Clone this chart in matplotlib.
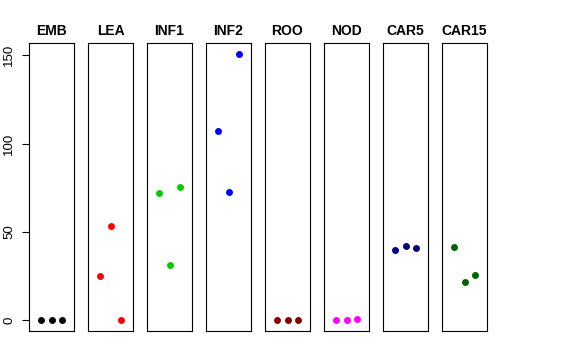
import matplotlib
matplotlib.use("Agg")
import matplotlib.pyplot as plt

tissues = ["EMB", "LEA", "INF1", "INF2", "ROO", "NOD", "CAR5", "CAR15"]
colors = ["black", "#FF0000", "#00CD00", "#0000FF", "#8B0000", "#FF00FF", "#000080", "#006400"]
reps = [1, 2, 3]
values = [
    [0, 0, 0],
    [25.2, 53.5, 0],
    [72.3, 31.1, 75.5],
    [107.4, 72.5, 150.7],
    [0, 0, 0],
    [0, 0.4, 0.9],
    [39.7, 42.2, 41.2],
    [41.4, 21.7, 25.8],
]
yticks = [0, 50, 100, 150]

plt.rcParams["font.family"] = ["Liberation Sans", "DejaVu Sans"]

W, H = 576, 360
fig = plt.figure(figsize=(W / 100, H / 100), dpi=100)

left0, step, width = 29, 59, 45
top, bottom = 43, 331

for i, (name, col, vals) in enumerate(zip(tissues, colors, values)):
    x0 = left0 + i * step
    ax = fig.add_axes([x0 / W, 1 - bottom / H, width / W, (bottom - top) / H])
    ax.plot(reps, vals, "o", color=col, markersize=5, markeredgewidth=0)
    ax.set_xlim(-0.16, 4.16)
    ax.set_ylim(-6.04, 157.0)
    ax.set_xticks([])
    for s in ax.spines.values():
        s.set_linewidth(0.8)
        s.set_color("black")
    ax.set_title(name, fontsize=10, fontweight="bold", pad=6)
    if i == 0:
        ax.set_yticks(yticks)
        ax.set_yticklabels([str(t) for t in yticks], fontsize=9.5)
        ax.tick_params(axis="y", length=5, width=0.8, pad=5, labelrotation=90)
        for lbl in ax.get_yticklabels():
            lbl.set_va("center")
    else:
        ax.set_yticks([])

fig.savefig("out.png", dpi=100)
